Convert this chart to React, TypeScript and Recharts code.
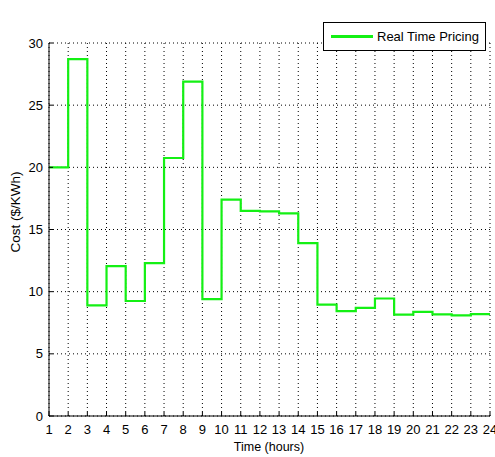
import { LineChart, Line, XAxis, YAxis, CartesianGrid, Legend } from "recharts";

// hourly real time price, each value holds from that hour until the next
const hours = [1, 2, 3, 4, 5, 6, 7, 8, 9, 10, 11, 12, 13, 14, 15, 16, 17, 18, 19, 20, 21, 22, 23, 24];
const cost = [20, 28.7, 8.9, 12.05, 9.25, 12.3, 20.75, 26.9, 9.4, 17.4, 16.5, 16.45, 16.3, 13.9, 8.95, 8.43, 8.7, 9.45, 8.16, 8.38, 8.18, 8.1, 8.2, 8.2];
const xTicks = hours;
const yTicks = [0, 5, 10, 15, 20, 25, 30];

const data = hours.map((h, i) => ({ hour: h, cost: cost[i] }));

const FONT = "'Liberation Sans', Arial, sans-serif";
const GREEN = "#14f014";

function LegendBox() {
  return (
    <div
      style={{
        width: 163,
        height: 29,
        border: "1px solid #000",
        background: "#fff",
        boxSizing: "border-box",
        display: "flex",
        alignItems: "center",
        whiteSpace: "nowrap",
        fontFamily: FONT,
        fontSize: 13,
        color: "#000",
      }}
    >
      <span style={{ display: "inline-block", width: 42, height: 3, background: GREEN, marginLeft: 7, marginRight: 4 }} />
      <span>Real Time Pricing</span>
    </div>
  );
}

export default function App() {
  const tick = { fontSize: 13, fill: "#000", fontFamily: FONT };
  return (
    <div style={{ position: "absolute", left: 0, top: 0, background: "#fff" }}>
      <LineChart width={495} height={457} data={data} margin={{ top: 14, right: 5, bottom: 11, left: 19 }}>
        <CartesianGrid stroke="#000" strokeDasharray="1 3" />
        <XAxis
          dataKey="hour"
          type="number"
          domain={[1, 24]}
          ticks={xTicks}
          interval={0}
          height={30}
          tick={tick}
          tickSize={-4}
          tickMargin={13}
          axisLine={{ stroke: "#000" }}
          tickLine={{ stroke: "#000" }}
        />
        <XAxis
          xAxisId="top"
          orientation="top"
          dataKey="hour"
          type="number"
          domain={[1, 24]}
          ticks={xTicks}
          interval={0}
          height={0}
          tick={false}
          tickSize={-4}
          axisLine={{ stroke: "#000" }}
          tickLine={{ stroke: "#000" }}
        />
        <YAxis
          type="number"
          domain={[0, 30]}
          ticks={yTicks}
          interval={0}
          width={30}
          tick={tick}
          tickSize={-4}
          tickMargin={10}
          axisLine={{ stroke: "#000" }}
          tickLine={{ stroke: "#000" }}
        />
        <YAxis
          yAxisId="right"
          orientation="right"
          type="number"
          domain={[0, 30]}
          ticks={yTicks}
          interval={0}
          width={0}
          tick={false}
          tickSize={-4}
          axisLine={{ stroke: "#000" }}
          tickLine={{ stroke: "#000" }}
        />
        <Legend
          verticalAlign="top"
          align="right"
          content={() => <LegendBox />}
          wrapperStyle={{ position: "absolute", left: 323, top: 22, width: 163 }}
        />
        <Line
          type="stepAfter"
          dataKey="cost"
          name="Real Time Pricing"
          stroke={GREEN}
          strokeWidth={2.2}
          dot={false}
          activeDot={false}
          isAnimationActive={false}
        />
        <text x={269} y={451} textAnchor="middle" fontSize={12.5} fontFamily={FONT} fill="#000">
          Time (hours)
        </text>
        <text
          x={20}
          y={212}
          textAnchor="middle"
          fontSize={13.5}
          fontFamily={FONT}
          fill="#000"
          transform="rotate(-90 20 212)"
        >
          Cost ($/KWh)
        </text>
      </LineChart>
    </div>
  );
}
